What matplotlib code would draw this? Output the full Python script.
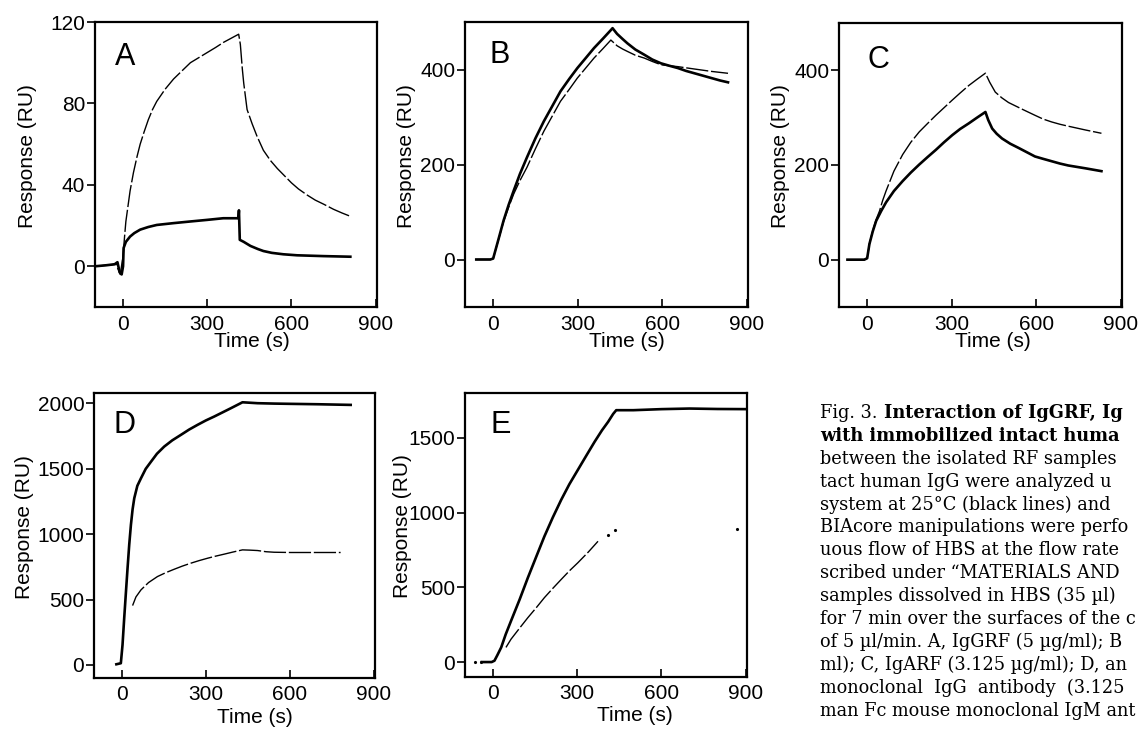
import numpy as np
import matplotlib
matplotlib.use("Agg")
import matplotlib.pyplot as plt

plt.rcParams["font.family"] = ["Liberation Sans", "DejaVu Sans"]

# Sensorgram traces: time (s) and response (RU)
# solid = 25 C (black lines), thin = the other temperature

# A - IgGRF
time_a_solid = [-100, -60, -30, -20, -12, -5, 0, 2, 10, 25, 40, 61, 90, 120, 180, 239, 300, 357, 411,
                413, 416, 430, 454, 480, 500, 530, 571, 620, 714, 810]
resp_a_solid = [0, 0.5, 1, 2, -3, -4, 0, 9, 12, 14.6, 16.3, 18, 19.3, 20.3, 21.2, 22, 22.8, 23.6, 23.6,
                27.5, 13, 12, 10, 8.5, 7.5, 6.6, 5.9, 5.4, 5, 4.7]
time_a_thin = [-100, -60, -25, -10, 0, 5, 10, 18, 25, 37, 50, 61, 75, 90, 105, 120, 150, 180, 210, 240,
               270, 300, 330, 358, 385, 412, 418, 425, 430, 442, 460, 477, 500, 525, 550, 575, 600, 625,
               656, 685, 715, 750, 780, 811]
resp_a_thin = [0, 0.5, 1, -4, 5, 14, 22, 30, 37, 46, 54, 60, 66, 72, 77, 81, 87, 92, 96, 100,
               102.5, 105, 107.5, 110, 112, 114, 109, 97, 90, 77, 70, 64, 57, 52, 48, 44.5, 41, 38,
               35, 32.5, 30.5, 28, 26.2, 24.5]

# B - IgMRF
time_b_solid = [-60, -10, 0, 20, 37, 55, 73, 95, 120, 150, 180, 210, 239, 270, 299, 330, 358, 390, 418,
                424, 440, 460, 477, 505, 537, 565, 596, 625, 656, 685, 715, 745, 775, 805, 834]
resp_b_solid = [0, 0, 2, 45, 82, 115, 145, 180, 215, 255, 291, 323, 354, 380, 403, 425, 445, 465, 483,
                487, 475, 464, 455, 442, 431, 421, 413, 408, 403, 397, 392, 387, 382, 377, 373]
time_b_thin = [-60, -10, 0, 20, 37, 55, 73, 95, 120, 150, 180, 210, 239, 270, 299, 330, 358, 390, 418,
               440, 460, 477, 505, 537, 565, 596, 625, 656, 715, 775, 834]
resp_b_thin = [0, 0, 2, 44, 80, 110, 138, 166, 194, 233, 270, 302, 333, 358, 382, 404, 424, 444, 462,
               450, 443, 438, 430, 424, 417, 410, 408, 406, 401, 396, 392]

# C - IgARF
time_c_solid = [-70, -10, 0, 8, 20, 32, 50, 67, 95, 126, 155, 185, 215, 244, 273, 302, 330, 361, 390, 420,
                430, 444, 460, 479, 508, 538, 567, 596, 625, 655, 685, 714, 775, 832]
resp_c_solid = [0, 0, 3, 33, 60, 82, 103, 121, 145, 166, 184, 201, 217, 232, 248, 263, 276, 288, 300, 312,
                295, 277, 266, 256, 245, 236, 227, 218, 213, 208, 203, 199, 193, 187]
time_c_thin = [-70, -10, 0, 8, 20, 32, 44, 55, 67, 95, 126, 155, 185, 215, 244, 273, 302, 330, 361, 390, 420,
               435, 455, 478, 502, 550, 596, 625, 655, 685, 714, 775, 832]
resp_c_thin = [0, 0, 3, 33, 62, 85, 103, 125, 145, 187, 222, 248, 270, 288, 305, 321, 337, 352, 368, 381, 394,
               375, 354, 342, 332, 318, 305, 297, 291, 286, 282, 274, 267]

# D - monoclonal IgG antibody
time_d_solid = [-20, -4, 2, 8, 14, 20, 26, 32, 38, 44, 55, 68, 85, 104, 125, 151, 180, 211, 240, 270,
                300, 330, 360, 389, 431, 485, 545, 604, 700, 818]
resp_d_solid = [5, 13, 153, 357, 550, 740, 920, 1071, 1190, 1275, 1370, 1428, 1500, 1555, 1615, 1670, 1718,
                1760, 1800, 1836, 1870, 1900, 1932, 1963, 2009, 2002, 1999, 1997, 1994, 1989]
time_d_thin = [38, 50, 68, 95, 127, 157, 187, 216, 246, 276, 306, 335, 365, 398, 431, 458, 485, 515, 544,
               604, 700, 782]
resp_d_thin = [454, 520, 574, 630, 676, 706, 732, 756, 778, 798, 816, 832, 847, 864, 880, 878, 875, 866, 862,
               860, 860, 860]

# E - monoclonal IgM antibody
time_e_solid = [-40, -5, 5, 15, 29, 45, 64, 95, 124, 155, 183, 213, 243, 272, 302, 332, 362, 388, 410, 428,
                439, 500, 600, 700, 800, 905]
resp_e_solid = [0, 0, 9, 45, 98, 185, 275, 420, 564, 710, 841, 968, 1086, 1190, 1285, 1380, 1474, 1550, 1607,
                1660, 1685, 1685, 1692, 1696, 1693, 1692]
time_e_thin = [46, 64, 95, 124, 155, 183, 213, 243, 272, 302, 340, 374]
resp_e_thin = [98, 153, 228, 297, 366, 431, 493, 553, 610, 664, 737, 808]
time_e_dots = [-65, -43, 410, 433, 868]
resp_e_dots = [0, 0, 852, 886, 892]

panels = [
    ("A", (95, 22, 377, 307), (-20, 120), [0, 40, 80, 120], -0.238, (0.557, -0.12), 0.849, 6),
    ("B", (465, 22, 748, 307), (-100, 500), [0, 200, 400], -0.205, (0.572, -0.12), 0.856, 6),
    ("C", (839, 23, 1122, 307), (-100, 500), [0, 200, 400], -0.208, (0.544, -0.12), 0.842, 6),
    ("D", (94, 393, 375, 678), (-100, 2080), [0, 500, 1000, 1500, 2000], -0.246, (0.573, -0.14), 0.86, 5),
    ("E", (465, 393, 747, 677), (-100, 1800), [0, 500, 1000, 1500], -0.223, (0.603, -0.137), 0.859, 5),
]
solid = [(time_a_solid, resp_a_solid), (time_b_solid, resp_b_solid), (time_c_solid, resp_c_solid),
         (time_d_solid, resp_d_solid), (time_e_solid, resp_e_solid)]
thin = [(time_a_thin, resp_a_thin), (time_b_thin, resp_b_thin), (time_c_thin, resp_c_thin),
        (time_d_thin, resp_d_thin), (time_e_thin, resp_e_thin)]
letter_x = [0.07, 0.088, 0.10, 0.068, 0.089]

W, H = 1144, 730
fig = plt.figure(figsize=(W / 100, H / 100), dpi=100)

for i, (letter, box, ylim, yticks, ylab_x, xlab_xy, letter_y, xpad) in enumerate(panels):
    l, t, r, b = box
    ax = fig.add_axes([l / W, 1 - b / H, (r - l) / W, (b - t) / H])
    ax.plot(solid[i][0], solid[i][1], color="black", lw=1.9)
    ax.plot(thin[i][0], thin[i][1], color="black", lw=1.0, dashes=(16, 2))
    if letter == "E":
        ax.plot(time_e_dots, resp_e_dots, "k.", ms=2.5)
    ax.set_xlim(-100, 905)
    ax.set_ylim(*ylim)
    ax.set_xticks([0, 300, 600, 900])
    ax.set_yticks(yticks)
    ax.tick_params(axis="x", direction="in", length=6, width=1.2, labelsize=15, pad=xpad)
    ax.tick_params(axis="y", direction="out", length=6, width=1.2, labelsize=15, pad=1)
    for s in ax.spines.values():
        s.set_linewidth(1.6)
    ax.set_ylabel("Response (RU)", fontsize=15)
    ax.set_xlabel("Time (s)", fontsize=15)
    ax.yaxis.set_label_coords(ylab_x, 0.53)
    ax.xaxis.set_label_coords(*xlab_xy)
    ax.xaxis.label.set_va("center")
    ax.yaxis.label.set_va("center")
    ax.text(letter_x[i], letter_y, letter, transform=ax.transAxes, fontsize=22, va="baseline")

# caption (only the part visible in the page scan)
caption = [
    "",
    "with immobilized intact huma",
    "between the isolated RF samples",
    "tact human IgG were analyzed u",
    "system at 25°C (black lines) and",
    "BIAcore manipulations were perfo",
    "uous flow of HBS at the flow rate",
    "scribed under \u201cMATERIALS AND",
    "samples dissolved in HBS (35 µl)",
    "for 7 min over the surfaces of the c",
    "of 5 µl/min. A, IgGRF (5 µg/ml); B",
    "ml); C, IgARF (3.125 µg/ml); D, an",
    "monoclonal  IgG  antibody  (3.125",
    "man Fc mouse monoclonal IgM ant",
]
cap_font = dict(family="DejaVu Serif", fontsize=12.8, va="center")
fig.text(820 / W, 1 - 413 / H, "Fig. 3.", **cap_font)
fig.text(884 / W, 1 - 413 / H, "Interaction of IgGRF, Ig", fontweight="bold", **cap_font)
for k, line in enumerate(caption):
    if k == 0:
        continue
    fig.text(820 / W, 1 - (413 + 22.9 * k) / H, line,
             fontweight="bold" if k == 1 else "normal", **cap_font)

fig.savefig("out.png", dpi=100)
